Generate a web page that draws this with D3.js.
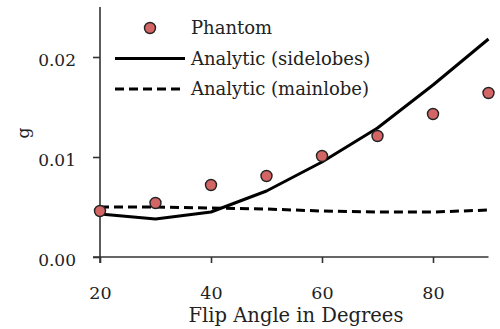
<!DOCTYPE html>
<html>
<head>
<meta charset="utf-8">
<script src="https://cdn.jsdelivr.net/npm/d3@7"></script>
<style>
  html, body { margin: 0; padding: 0; background: #fff; }
  svg text { font-family: "DejaVu Serif", serif; fill: #222; }
</style>
</head>
<body>
<div id="chart"></div>
<script>
// Flip angle vs g — phantom measurements against two analytic curves

const angles    = [20, 30, 40, 50, 60, 70, 80, 90];
const phantom   = [0.0046, 0.0054, 0.0072, 0.0081, 0.0101, 0.0121, 0.0143, 0.0164];
const sidelobes = [0.0043, 0.0038, 0.0045, 0.0066, 0.0095, 0.0129, 0.0172, 0.0218];
const mainlobe  = [0.0050, 0.0050, 0.0049, 0.0048, 0.0046, 0.0045, 0.0045, 0.0047];
const xTicks    = [20, 40, 60, 80];
const yTicks    = [0, 0.01, 0.02];
const legendLabels = ['Phantom', 'Analytic (sidelobes)', 'Analytic (mainlobe)'];

const W = 500, H = 329;
const svg = d3.select('#chart').append('svg').attr('width', W).attr('height', H);

const x = d3.scaleLinear().domain([20, 90]).range([100, 488.5]);
const y = d3.scaleLinear().domain([0, 0.025]).range([257, 7]);

const AXIS = '#333';

// ── Axes ──────────────────────────────────────────────────────
svg.append('g').attr('transform', `translate(0,${y(0)})`)
  .call(d3.axisBottom(x).tickValues(xTicks).tickSize(6).tickSizeOuter(0).tickPadding(24))
  .call(g => {
    g.select('.domain').attr('stroke', AXIS).attr('stroke-width', 1.6).attr('d', `M93,0H${x(90)}`);
    g.selectAll('line').attr('stroke', AXIS).attr('stroke-width', 1.6);
    g.selectAll('text').attr('font-size', 17.5).attr('fill', '#222').attr('font-family', '"DejaVu Serif", serif');
  });

svg.append('g').attr('transform', `translate(${x(20)},0)`)
  .call(d3.axisLeft(y).tickValues(yTicks).tickFormat(d3.format('.2f')).tickSize(7).tickSizeOuter(0).tickPadding(17))
  .call(g => {
    g.select('.domain').attr('stroke', AXIS).attr('stroke-width', 1.6).attr('d', `M0,${y(0) + 6}V${y(0.025)}`);
    g.selectAll('line').attr('stroke', AXIS).attr('stroke-width', 1.6);
    g.selectAll('text').attr('font-size', 17).attr('fill', '#222').attr('dy', '0.5em').attr('font-family', '"DejaVu Serif", serif');
  });

// Axis titles
svg.append('text').attr('x', 296).attr('y', 322).attr('text-anchor', 'middle')
  .attr('font-size', 19.5).text('Flip Angle in Degrees');
svg.append('text').attr('transform', 'translate(29,133) rotate(-90)').attr('text-anchor', 'middle')
  .attr('font-size', 17).text('g');

// ── Lines ─────────────────────────────────────────────────────
const line = d3.line().x((d, i) => x(angles[i])).y(d => y(d));

svg.append('path').datum(mainlobe)
  .attr('fill', 'none').attr('stroke', '#000').attr('stroke-width', 3)
  .attr('stroke-dasharray', '9,5').attr('d', line);

svg.append('path').datum(sidelobes)
  .attr('fill', 'none').attr('stroke', '#000').attr('stroke-width', 3)
  .attr('stroke-linejoin', 'round').attr('d', line);

// ── Phantom markers ───────────────────────────────────────────
const DOT = '#d46565';
svg.selectAll('.dot').data(phantom).enter().append('circle')
  .attr('cx', (d, i) => x(angles[i])).attr('cy', d => y(d))
  .attr('r', 5.5).attr('fill', DOT).attr('stroke', '#222').attr('stroke-width', 1.4);

// ── Legend ────────────────────────────────────────────────────
const legend = svg.append('g').attr('transform', 'translate(115,28)');
legendLabels.forEach((label, i) => {
  const row = legend.append('g').attr('transform', `translate(0,${i * 30.5})`);
  if (i === 0) {
    row.append('circle').attr('cx', 35).attr('cy', 0).attr('r', 5.5)
      .attr('fill', DOT).attr('stroke', '#222').attr('stroke-width', 1.4);
  } else {
    row.append('line').attr('x1', 0).attr('x2', 70).attr('y1', 0).attr('y2', 0)
      .attr('stroke', '#000').attr('stroke-width', 3)
      .attr('stroke-dasharray', i === 2 ? '9,5' : null);
  }
  row.append('text').attr('x', 76).attr('y', 0).attr('dy', '0.35em')
    .attr('font-size', 18).text(label);
});
</script>
</body>
</html>
